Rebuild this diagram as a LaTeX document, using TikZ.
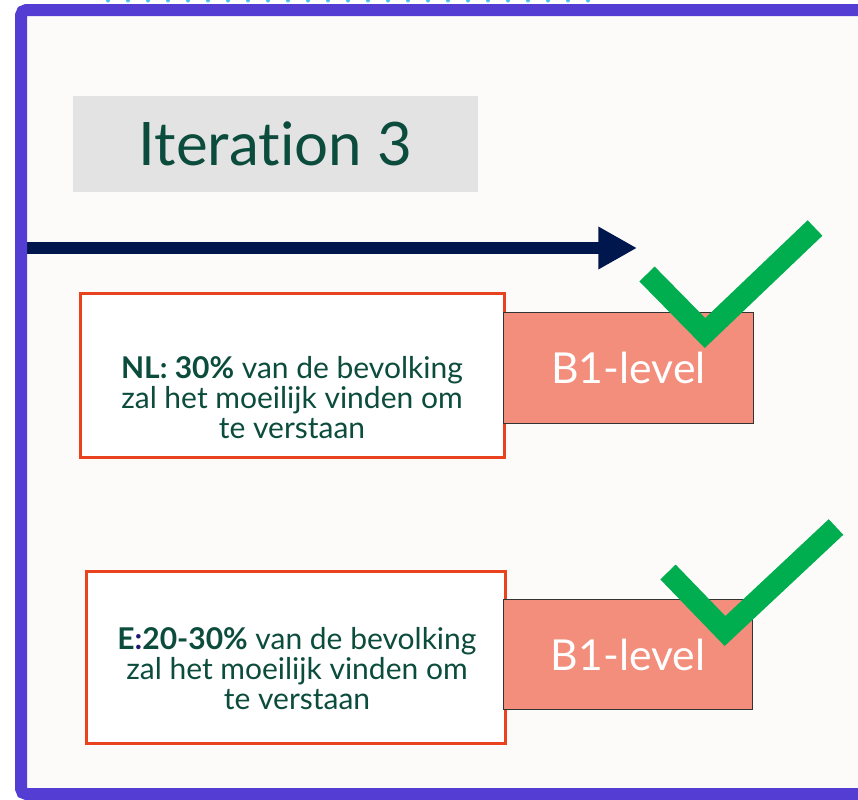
\documentclass[tikz,border=0pt]{standalone}
\usepackage{fontspec}
\setmainfont{Lato}[Ligatures=NoCommon]
\usepackage[dvipsnames]{xcolor}
\usetikzlibrary{arrows.meta}
\definecolor{kader}{RGB}{83,61,211}
\definecolor{stippel}{RGB}{77,196,245}
\definecolor{achtergrond}{RGB}{252,251,250}
\definecolor{titelgrijs}{RGB}{227,227,227}
\definecolor{donkergroen}{RGB}{12,76,61}
\definecolor{pijlblauw}{RGB}{0,23,77}
\definecolor{randrood}{RGB}{232,66,31}
\definecolor{zalm}{RGB}{242,142,123}
\definecolor{vinkgroen}{RGB}{0,174,79}
\definecolor{dubbelpunt}{RGB}{26,26,110}

\begin{document}
\begin{tikzpicture}[x=0.75pt,y=0.75pt,yscale=-1,xscale=1,
    titelvak/.style={fill=titelgrijs,text=donkergroen,minimum width=303.75pt,minimum height=72pt,inner sep=0pt,font=\fontsize{45}{52}\selectfont},
    landvak/.style={draw=randrood,fill=white,line width=2.25pt,inner sep=0pt},
    niveauvak/.style={draw=black!80,fill=zalm,line width=0.75pt,text=white,inner sep=0pt,minimum width=187pt,minimum height=83pt,font=\fontsize{32}{38}\selectfont},
    uitleg/.style={align=center,text=donkergroen,inner sep=0.75pt,font=\fontsize{22.5}{22.5}\selectfont},
    vinkje/.style={draw=vinkgroen,line width=16pt,line cap=butt,line join=miter}]
\useasboundingbox (0,0) rectangle (858,800);
\fill [white] (0,0) rectangle (858,800);
\fill [achtergrond] (21,10) rectangle (858,794);
\draw [stippel,line width=3pt,line cap=round,dash pattern={on 0pt off 15pt}] (108,0.5) -- (590,0.5);

\node [titelvak] (iteratie) at (275.5,144) {Iteration 3};

\coordinate (pijlbegin) at (21,248);
\coordinate (pijleind) at (637,248);
\draw [pijlblauw,line width=9pt,-{Triangle[length=29pt,width=30pt]}] (pijlbegin) -- (pijleind);

\node [landvak,minimum width=318pt,minimum height=123pt] (nl) at (292,375) {};
\node [niveauvak] (nlniveau) at (628.5,368) {B1-level};
\node [uitleg] (nltekst) at (292,398) {\textbf{NL: 30\%} van de bevolking\\zal het moeilijk vinden om\\te verstaan};

\node [landvak,minimum width=314.25pt,minimum height=129pt] (en) at (295.5,657) {};
\node [niveauvak] (enniveau) at (628,654.5) {B1-level};
\node [uitleg] (entekst) at (297,669) {\textbf{E\textcolor{dubbelpunt}{:}20-30\%} van de bevolking\\zal het moeilijk vinden om\\te verstaan};

\draw [vinkje] (647,274) -- (705,333) -- (815,228);
\draw [vinkje] (668,572) -- (725,631) -- (836,527);

\draw [kader,line width=9pt,rounded corners=4pt] (870,10) -- (21,10) -- (21,794) -- (870,794);
\end{tikzpicture}
\end{document}
